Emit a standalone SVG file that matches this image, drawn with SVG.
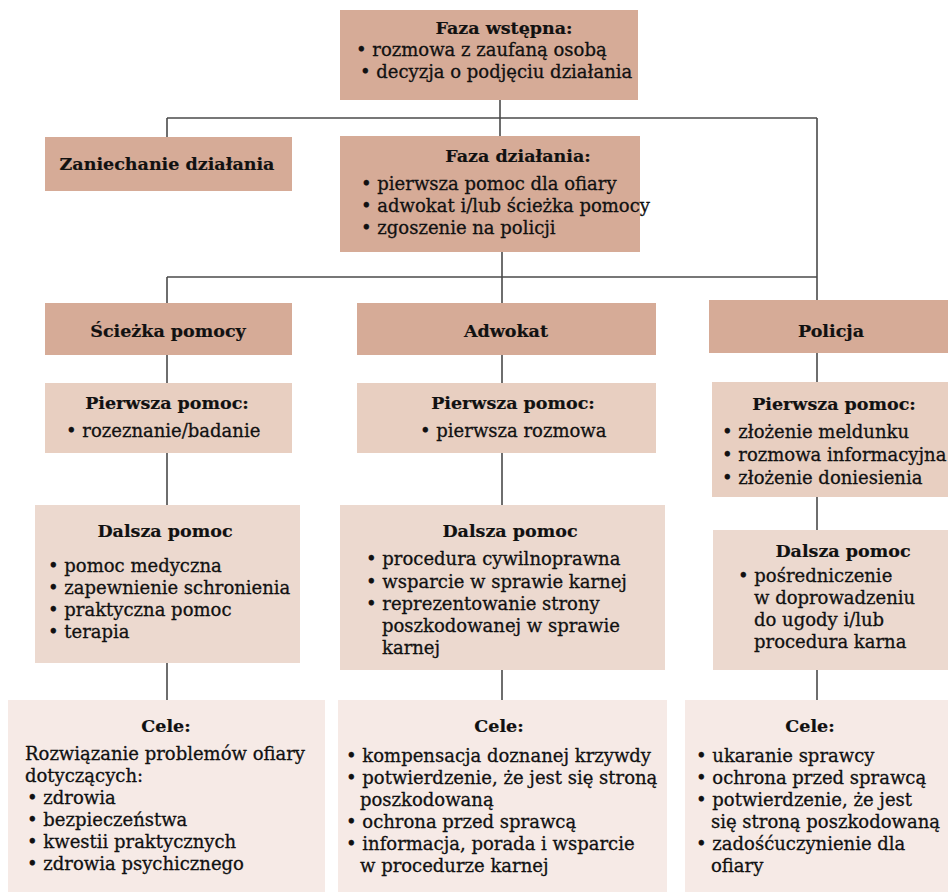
<svg xmlns="http://www.w3.org/2000/svg" width="948" height="895" viewBox="0 0 948 895">
<style>
text{font-family:"DejaVu Serif","Liberation Serif",serif;font-size:18px;fill:#111;stroke:#111;stroke-width:0.3;}
.t{font-weight:bold;text-anchor:middle;font-size:17.5px;stroke-width:0.2;}
.l1{fill:#d6ab97;}
.l2{fill:#e8cfc1;}
.l3{fill:#ecd9cf;}
.l4{fill:#f6eae6;}
.con line{stroke:#4a4a4a;stroke-width:1.6;}
</style>
<rect width="948" height="895" fill="#fff"/>
<g class="con">
<line x1="500" y1="100" x2="500" y2="136"/>
<line x1="167" y1="118" x2="817" y2="118"/>
<line x1="167" y1="118" x2="167" y2="137"/>
<line x1="817" y1="118" x2="817" y2="300"/>
<line x1="502" y1="252" x2="502" y2="303"/>
<line x1="167" y1="277" x2="817" y2="277"/>
<line x1="167" y1="277" x2="167" y2="303"/>
<line x1="167" y1="355" x2="167" y2="383"/>
<line x1="167" y1="453" x2="167" y2="505"/>
<line x1="167" y1="663" x2="167" y2="700"/>
<line x1="502" y1="355" x2="502" y2="383"/>
<line x1="502" y1="453" x2="502" y2="505"/>
<line x1="502" y1="670" x2="502" y2="700"/>
<line x1="817" y1="353" x2="817" y2="382"/>
<line x1="817" y1="497" x2="817" y2="530"/>
<line x1="817" y1="670" x2="817" y2="700"/>
</g>
<g id="faza-wstepna">
<rect class="l1" x="340" y="10" width="298" height="90"/>
<text class="t" x="504" y="34">Faza wstępna:</text>
<text x="356" y="56">• rozmowa z zaufaną osobą</text>
<text x="360" y="78">• decyzja o podjęciu działania</text>
</g>
<g id="zaniechanie">
<rect class="l1" x="45" y="137" width="247" height="54"/>
<text class="t" x="167" y="170">Zaniechanie działania</text>
</g>
<g id="faza-dzialania">
<rect class="l1" x="340" y="136" width="300" height="116"/>
<text class="t" x="518" y="162">Faza działania:</text>
<text x="361" y="190">• pierwsza pomoc dla ofiary</text>
<text x="361" y="212">• adwokat i/lub ścieżka pomocy</text>
<text x="361" y="234">• zgoszenie na policji</text>
</g>
<g id="sciezka">
<rect class="l1" x="45" y="303" width="247" height="52"/>
<text class="t" x="168" y="337">Ścieżka pomocy</text>
</g>
<g id="adwokat">
<rect class="l1" x="357" y="303" width="299" height="52"/>
<text class="t" x="506" y="337">Adwokat</text>
</g>
<g id="policja">
<rect class="l1" x="709" y="300" width="239" height="53"/>
<text class="t" x="831" y="337">Policja</text>
</g>
<g id="pp-left">
<rect class="l2" x="45" y="383" width="247" height="70"/>
<text class="t" x="167" y="409">Pierwsza pomoc:</text>
<text x="66" y="437">• rozeznanie/badanie</text>
</g>
<g id="pp-mid">
<rect class="l2" x="357" y="383" width="299" height="70"/>
<text class="t" x="513" y="409">Pierwsza pomoc:</text>
<text x="420" y="437">• pierwsza rozmowa</text>
</g>
<g id="pp-right">
<rect class="l2" x="712" y="382" width="236" height="115"/>
<text class="t" x="834" y="410">Pierwsza pomoc:</text>
<text x="722" y="438">• złożenie meldunku</text>
<text x="722" y="461">• rozmowa informacyjna</text>
<text x="722" y="484">• złożenie doniesienia</text>
</g>
<g id="dp-left">
<rect class="l3" x="35" y="505" width="265" height="158"/>
<text class="t" x="165" y="537">Dalsza pomoc</text>
<text x="48" y="572">• pomoc medyczna</text>
<text x="48" y="594">• zapewnienie schronienia</text>
<text x="48" y="616">• praktyczna pomoc</text>
<text x="48" y="638">• terapia</text>
</g>
<g id="dp-mid">
<rect class="l3" x="340" y="505" width="325" height="165"/>
<text class="t" x="510" y="537">Dalsza pomoc</text>
<text x="366" y="565">• procedura cywilnoprawna</text>
<text x="366" y="588">• wsparcie w sprawie karnej</text>
<text x="366" y="610">• reprezentowanie strony</text>
<text x="382" y="632">poszkodowanej w sprawie</text>
<text x="382" y="654">karnej</text>
</g>
<g id="dp-right">
<rect class="l3" x="713" y="530" width="235" height="140"/>
<text class="t" x="843" y="557">Dalsza pomoc</text>
<text x="738" y="582">• pośredniczenie</text>
<text x="754" y="604">w doprowadzeniu</text>
<text x="754" y="626">do ugody i/lub</text>
<text x="754" y="648">procedura karna</text>
</g>
<g id="cele-left">
<rect class="l4" x="8" y="700" width="317" height="192"/>
<text class="t" x="166" y="732">Cele:</text>
<text x="25" y="760">Rozwiązanie problemów ofiary</text>
<text x="25" y="782">dotyczących:</text>
<text x="27" y="804">• zdrowia</text>
<text x="27" y="826">• bezpieczeństwa</text>
<text x="27" y="848">• kwestii praktycznych</text>
<text x="27" y="870">• zdrowia psychicznego</text>
</g>
<g id="cele-mid">
<rect class="l4" x="338" y="700" width="329" height="192"/>
<text class="t" x="499" y="732">Cele:</text>
<text x="346" y="762">• kompensacja doznanej krzywdy</text>
<text x="346" y="784">• potwierdzenie, że jest się stroną</text>
<text x="360" y="806">poszkodowaną</text>
<text x="346" y="828">• ochrona przed sprawcą</text>
<text x="346" y="850">• informacja, porada i wsparcie</text>
<text x="360" y="872">w procedurze karnej</text>
</g>
<g id="cele-right">
<rect class="l4" x="685" y="700" width="263" height="192"/>
<text class="t" x="810" y="732">Cele:</text>
<text x="696" y="762">• ukaranie sprawcy</text>
<text x="696" y="784">• ochrona przed sprawcą</text>
<text x="696" y="806">• potwierdzenie, że jest</text>
<text x="711" y="828">się stroną poszkodowaną</text>
<text x="696" y="850">• zadośćuczynienie dla</text>
<text x="711" y="872">ofiary</text>
</g>
</svg>
